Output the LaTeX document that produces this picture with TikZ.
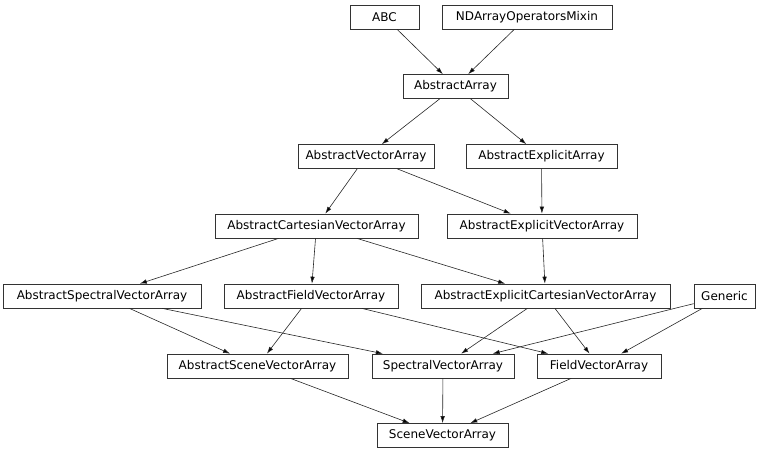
\documentclass[tikz,border=0pt]{standalone}
\usepackage{fontspec}
\setmainfont{DejaVu Sans}
\usepackage{tikz}
\usetikzlibrary{arrows.meta}

\begin{document}
\begin{tikzpicture}[x=1pt, y=-1pt, font=\fontsize{12}{14}\selectfont]
        % Setup the style for the classes
        \tikzset{class style/.style={rectangle,
                                     draw=black!80,
                                     line width=0.7pt,
                                     fill=white,
                                     inner sep=0pt,
                                     minimum height=24pt}}
        \useasboundingbox (0, 0) rectangle (768, 453);

        % Draw the classes
        \node[class style, minimum width=69pt]  at (384.5, 17)  (abc)        {ABC};
        \node[class style, minimum width=170pt] at (527, 17)    (ndmixin)    {NDArrayOperatorsMixin};
        \node[class style, minimum width=105pt] at (455.5, 86.5) (absarray)  {AbstractArray};
        \node[class style, minimum width=136pt] at (366, 156.5) (absvec)     {AbstractVectorArray};
        \node[class style, minimum width=151pt] at (541.5, 156.5) (absexpl)  {AbstractExplicitArray};
        \node[class style, minimum width=203pt] at (316.5, 226) (abscart)    {AbstractCartesianVectorArray};
        \node[class style, minimum width=190pt] at (542, 226)   (absexplvec) {AbstractExplicitVectorArray};
        \node[class style, minimum width=198pt] at (102, 296)   (absspec)    {AbstractSpectralVectorArray};
        \node[class style, minimum width=174pt] at (311, 296)   (absfield)   {AbstractFieldVectorArray};
        \node[class style, minimum width=249pt] at (545.5, 296) (absexplcart) {AbstractExplicitCartesianVectorArray};
        \node[class style, minimum width=61pt]  at (724.5, 296) (generic)    {Generic};
        \node[class style, minimum width=181pt] at (257.5, 366) (absscene)   {AbstractSceneVectorArray};
        \node[class style, minimum width=142pt] at (443, 366)   (specvec)    {SpectralVectorArray};
        \node[class style, minimum width=124pt] at (599, 366)   (fieldvec)   {FieldVectorArray};
        \node[class style, minimum width=131pt] at (442.5, 435.5) (scenevec) {SceneVectorArray};

        % Connect the classes with arrows
        \draw[line width=0.6pt,
              >={Latex[length=7pt, width=4.5pt]},
              draw=black!85]
            (abc)         edge[->] (absarray)
            (ndmixin)     edge[->] (absarray)
            (absarray)    edge[->] (absvec)
            (absarray)    edge[->] (absexpl)
            (absvec)      edge[->] (abscart)
            (absvec)      edge[->] (absexplvec)
            (absexpl)     edge[->] (absexplvec)
            (abscart)     edge[->] (absspec)
            (abscart)     edge[->] (absfield)
            (abscart)     edge[->] (absexplcart)
            (absexplvec)  edge[->] (absexplcart)
            (absspec)     edge[->] (absscene)
            (absspec)     edge[->] (specvec)
            (absfield)    edge[->] (absscene)
            (absfield)    edge[->] (fieldvec)
            (absexplcart) edge[->] (specvec)
            (absexplcart) edge[->] (fieldvec)
            (generic)     edge[->] (specvec)
            (generic)     edge[->] (fieldvec)
            (absscene)    edge[->] (scenevec)
            (specvec)     edge[->] (scenevec)
            (fieldvec)    edge[->] (scenevec);
\end{tikzpicture}
\end{document}
